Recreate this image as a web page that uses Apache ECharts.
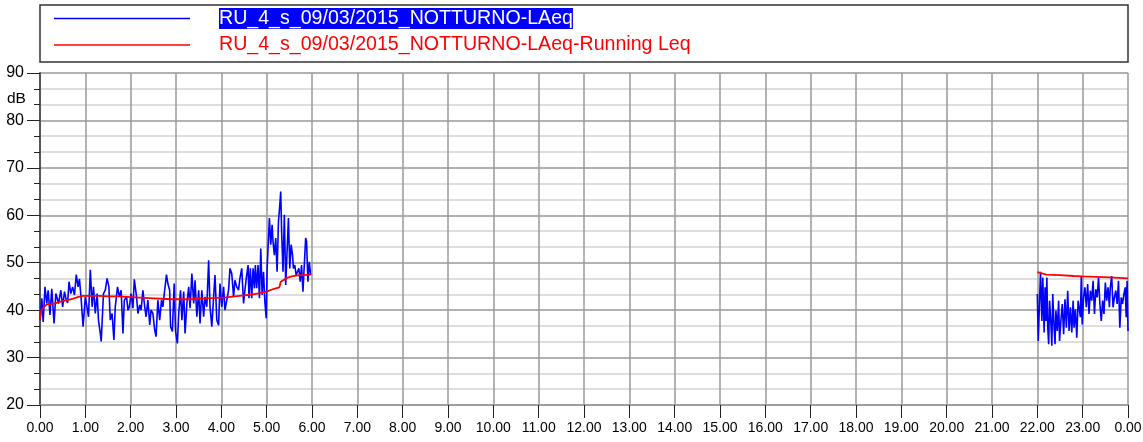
<!DOCTYPE html>
<html>
<head>
<meta charset="utf-8">
<script src="https://cdn.jsdelivr.net/npm/echarts@6/dist/echarts.min.js"></script>
<style>
html,body{margin:0;padding:0;background:#fff;}
#c{width:1143px;height:442px;}
</style>
</head>
<body>
<div id="c"></div>
<script>
// ---- DATA ----
const seriesNames = ['RU_4_s_09/03/2015_NOTTURNO-LAeq', 'RU_4_s_09/03/2015_NOTTURNO-LAeq-Running Leq'];
const hourLabels = ['0.00','1.00','2.00','3.00','4.00','5.00','6.00','7.00','8.00','9.00','10.00','11.00','12.00',
  '13.00','14.00','15.00','16.00','17.00','18.00','19.00','20.00','21.00','22.00','23.00','0.00'];
const yAxisUnit = 'dB';

// LAeq, 00:00 - 06:00 (hours)
const laeqTimesA = [0.00,0.04,0.07,0.11,0.15,0.18,0.22,0.26,0.31,0.35,0.41,0.46,0.50,0.54,0.58,0.61,0.64,0.68,0.72,0.76,
  0.80,0.84,0.87,0.91,0.95,1.00,1.03,1.07,1.11,1.15,1.18,1.22,1.26,1.29,1.33,1.35,1.40,1.44,1.48,1.52,
  1.55,1.59,1.63,1.66,1.71,1.75,1.79,1.83,1.86,1.91,1.94,1.97,2.01,2.05,2.08,2.13,2.16,2.20,2.23,2.27,
  2.31,2.34,2.38,2.42,2.45,2.49,2.53,2.56,2.60,2.64,2.68,2.71,2.75,2.79,2.82,2.86,2.88,2.92,2.96,2.99,
  3.03,3.06,3.10,3.13,3.17,3.20,3.24,3.28,3.31,3.35,3.39,3.42,3.46,3.50,3.53,3.57,3.61,3.64,3.68,3.72,
  3.75,3.79,3.83,3.86,3.90,3.94,3.97,4.01,4.05,4.08,4.12,4.16,4.19,4.23,4.27,4.30,4.34,4.38,4.41,4.45,
  4.49,4.52,4.55,4.59,4.61,4.64,4.67,4.70,4.73,4.75,4.78,4.81,4.84,4.87,4.90,4.93,4.96,4.99,5.01,5.03,
  5.06,5.09,5.12,5.14,5.17,5.20,5.23,5.26,5.29,5.31,5.33,5.36,5.39,5.42,5.45,5.48,5.51,5.54,5.57,5.59,
  5.62,5.65,5.68,5.71,5.74,5.77,5.80,5.83,5.86,5.88,5.91,5.94,5.97];
const laeqValuesA = [37.9,42.5,37.5,44.9,41.4,44.2,39.0,44.5,37.2,43.5,41.4,44.2,40.7,43.9,42.1,41.5,46.0,43.5,44.9,43.2,
  47.5,44.9,46.6,42.1,36.5,42.8,42.5,38.6,48.5,40.7,44.9,39.3,43.5,37.9,35.1,33.4,43.5,44.2,46.7,44.9,
  37.9,39.3,33.7,40.7,44.9,42.8,44.2,35.1,42.1,42.8,40.0,40.7,43.5,40.4,46.5,42.8,39.3,41.1,40.0,44.2,
  40.7,38.6,42.1,36.9,40.0,39.3,35.8,34.4,42.1,37.9,42.1,40.7,44.2,47.5,45.6,44.2,36.5,35.5,45.6,35.5,
  33.0,39.3,44.2,37.9,43.9,35.1,41.4,44.9,40.4,47.7,41.4,46.3,38.6,44.2,37.2,44.2,38.6,42.8,40.7,50.5,
  40.7,36.5,42.8,47.4,37.9,36.8,45.6,40.7,44.9,40.0,42.1,44.2,48.8,47.7,42.8,46.3,44.9,44.2,46.7,48.8,
  41.4,44.2,46.7,49.5,42.5,48.8,42.5,48.8,44.6,49.5,44.6,49.5,42.5,53.0,43.2,48.1,41.8,38.3,48.8,53.0,
  59.4,53.8,58.0,54.5,51.6,55.2,48.1,58.7,62.2,65.0,56.6,48.1,60.1,45.3,52.3,59.4,48.8,53.8,51.6,48.8,
  49.5,47.4,48.1,48.8,46.0,49.5,43.9,49.5,55.2,54.5,46.0,50.2,47.4];

// LAeq, 22:00 - 24:00 (hours)
const laeqTimesB = [22.00,22.02,22.07,22.10,22.12,22.15,22.17,22.19,22.21,22.23,22.25,22.27,22.30,22.32,22.34,22.37,22.39,22.41,22.44,22.47,
  22.49,22.52,22.55,22.58,22.61,22.64,22.67,22.70,22.73,22.76,22.79,22.81,22.84,22.87,22.90,22.93,22.95,22.97,22.99,23.02,
  23.05,23.08,23.11,23.14,23.17,23.20,23.23,23.26,23.29,23.32,23.35,23.38,23.41,23.44,23.47,23.50,23.53,23.56,23.59,23.61,
  23.64,23.67,23.70,23.73,23.76,23.79,23.82,23.85,23.88,23.91,23.94,23.96,23.98,24.00];
const laeqValuesB = [43.4,33.5,48.1,37.7,46.9,35.3,44.8,37.7,46.9,36.3,32.8,42.0,37.0,32.5,43.4,36.3,32.8,39.9,35.6,42.0,
  33.5,37.7,41.3,34.9,42.3,36.3,44.1,35.6,40.6,35.3,42.0,36.3,40.2,34.2,42.0,42.3,38.5,47.2,37.0,42.7,
  44.8,40.6,45.5,39.2,44.1,42.0,46.2,39.2,44.4,42.7,46.9,41.3,37.7,42.0,39.2,45.8,42.0,44.8,40.6,44.8,
  47.2,40.6,42.7,44.1,41.3,46.2,36.3,42.7,41.3,43.4,44.8,38.5,46.2,35.6];

// Running Leq
const runTimesA = [0.00,0.03,0.06,0.10,0.15,0.25,0.35,0.45,0.55,0.65,0.75,0.85,0.95,1.10,1.30,1.50,1.70,1.90,2.10,2.30,
  2.50,2.70,2.90,3.10,3.30,3.50,3.70,3.90,4.10,4.30,4.50,4.70,4.85,5.00,5.10,5.20,5.28,5.31,5.35,5.45,
  5.55,5.65,5.80,5.97];
const runValuesA = [38.0,40.0,40.3,40.8,41.2,41.3,41.5,41.8,42.0,42.2,42.5,42.8,43.0,43.0,43.0,42.9,42.9,42.8,42.7,42.6,
  42.5,42.4,42.3,42.3,42.3,42.4,42.5,42.6,42.7,42.9,43.1,43.3,43.6,43.9,44.3,44.6,44.8,46.0,46.4,46.8,
  47.1,47.3,47.4,47.5];
const runTimesB = [22.00,22.02,22.20,22.50,22.80,23.00,23.30,23.60,24.00];
const runValuesB = [48.0,47.6,47.5,47.4,47.2,47.1,47.0,46.9,46.7];

// ---- CHART ----
const zip = (xs, ys) => xs.map((x, i) => [x, ys[i]]);
const FONT = '"Liberation Sans", Arial, sans-serif';
const chart = echarts.init(document.getElementById('c'), null, {renderer: 'canvas'});

const option = {
  animation: false,
  backgroundColor: '#ffffff',
  textStyle: {fontFamily: FONT},
  grid: {left: 40, right: 15, top: 73, bottom: 37, containLabel: false, outerBoundsMode: 'none'},
  title: {
    text: yAxisUnit, left: 7, top: 91, padding: 0,
    textStyle: {fontSize: 15.5, fontWeight: 'normal', color: '#000', fontFamily: FONT}
  },
  graphic: [{
    type: 'rect', z: 0, silent: true,
    shape: {x: 40, y: 5, width: 1088, height: 57},
    style: {fill: 'none', stroke: '#333', lineWidth: 1.5}
  }],
  legend: {
    orient: 'vertical', left: 54, top: 8, padding: 0,
    icon: 'rect', itemWidth: 136, itemHeight: 1.5, itemGap: 6,
    data: seriesNames,
    formatter: function (name) {
      return name === seriesNames[0] ? '{sp| }{hl|' + name + '}' : '{sp| }{rd|' + name + '}';
    },
    textStyle: {
      fontSize: 19.6, fontFamily: FONT,
      rich: {
        sp: {width: 24, fontSize: 19.6},
        hl: {backgroundColor: '#0000ff', color: '#ffffff', fontSize: 19.6, fontFamily: FONT, padding: [1, 0, 0, 0], lineHeight: 22},
        rd: {color: '#ff0000', fontSize: 19.6, fontFamily: FONT, lineHeight: 22}
      }
    }
  },
  xAxis: {
    type: 'value', min: 0, max: 24, interval: 1,
    axisLine: {show: true, onZero: false, lineStyle: {color: '#999', width: 1.5}},
    axisTick: {show: true, length: 13, lineStyle: {color: '#222', width: 1}},
    axisLabel: {
      show: true, color: '#000', fontSize: 14, fontFamily: FONT, margin: 16,
      showMinLabel: true, showMaxLabel: true,
      formatter: function (v) { return hourLabels[Math.round(v)]; }
    },
    splitLine: {show: true, lineStyle: {color: '#999', width: 1.5}}
  },
  yAxis: {
    type: 'value', min: 20, max: 90, interval: 10,
    axisLine: {show: true, lineStyle: {color: '#555', width: 2}},
    axisTick: {show: true, length: 13, lineStyle: {color: '#222', width: 1}},
    minorTick: {show: true, splitNumber: 3, length: 6, lineStyle: {color: '#222', width: 1}},
    minorSplitLine: {show: true, lineStyle: {color: '#d4d4d4', width: 1.5}},
    splitLine: {show: true, lineStyle: {color: '#999', width: 1.5}},
    axisLabel: {show: true, color: '#000', fontSize: 16, fontFamily: FONT, margin: 16,
      showMinLabel: true, showMaxLabel: true}
  },
  series: [
    {name: seriesNames[0], type: 'line', data: zip(laeqTimesA, laeqValuesA), symbol: 'none', color: '#0000ff',
      lineStyle: {color: '#0000ff', width: 1.6}, z: 3},
    {name: seriesNames[0], type: 'line', data: zip(laeqTimesB, laeqValuesB), symbol: 'none', color: '#0000ff',
      lineStyle: {color: '#0000ff', width: 1.6}, z: 3},
    {name: seriesNames[1], type: 'line', data: zip(runTimesA, runValuesA), symbol: 'none', color: '#ff0000',
      lineStyle: {color: '#ff0000', width: 1.8}, z: 4},
    {name: seriesNames[1], type: 'line', data: zip(runTimesB, runValuesB), symbol: 'none', color: '#ff0000',
      lineStyle: {color: '#ff0000', width: 1.8}, z: 4}
  ]
};
chart.setOption(option);
</script>
</body>
</html>
